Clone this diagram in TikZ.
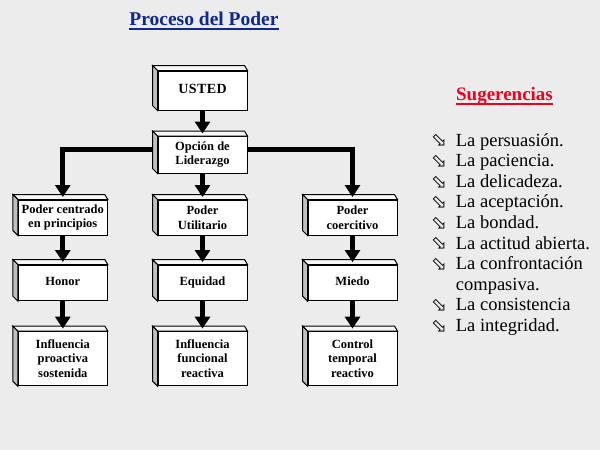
\documentclass[tikz,border=0pt]{standalone}
\usepackage{fontspec}
\setmainfont{Liberation Serif}
\newfontfamily\symfont{DejaVu Sans}
\usetikzlibrary{arrows.meta}
\definecolor{bgc}{RGB}{236,236,236}
\definecolor{ttl}{RGB}{16,40,150}
\definecolor{sug}{RGB}{240,0,30}
\definecolor{sidec}{RGB}{192,192,192}
\definecolor{topc}{RGB}{246,246,246}
\begin{document}
\begin{tikzpicture}[x=1pt,y=-1pt,
  face/.style={draw, line width=1pt, fill=white, minimum width=89pt, inner sep=1pt, align=center,
    font=\bfseries\fontsize{12.5}{14.5}\selectfont},
  oneline/.style={text height=9pt, text depth=3pt},
  conn/.style={line width=5pt, -{Triangle[width=15pt,length=12pt]}, shorten >=2.5pt, line join=miter},
  listtxt/.style={anchor=base west, inner sep=0pt, font=\fontsize{18.5}{20}\selectfont},
  bul/.style={anchor=south west, inner sep=0pt, font=\symfont\fontsize{19}{19}\selectfont},
]
\fill[bgc] (0,0) rectangle (600,450);
\useasboundingbox (0,0) rectangle (600,450);

% title
\node[anchor=base, inner sep=0pt, text=ttl, font=\bfseries\fontsize{19.5}{22}\selectfont] (title) at (204,25.3) {Proceso del Poder};
\draw[ttl, line width=2pt] ([yshift=-4pt]title.base west) -- ([yshift=-4pt]title.base east);

% boxes
\node[face, oneline, minimum height=39pt] (usted) at (202.5,90.5) {\fontsize{14}{16}\selectfont\addfontfeature{LetterSpace=3}USTED};
\node[face, minimum height=36.5pt] (opcion) at (202.5,154.75) {Opción de\\Liderazgo};
\node[face, minimum height=35pt] (pA) at (62.8,217.5) {Poder centrado\\en principios};
\node[face, minimum height=35pt] (pB) at (202.5,217.5) {Poder\\Utilitario};
\node[face, minimum height=35pt] (pC) at (352.5,217.5) {Poder\\coercitivo};
\node[face, oneline, minimum height=35.5pt] (hA) at (62.8,282.8) {Honor};
\node[face, oneline, minimum height=35.5pt] (hB) at (202.5,282.8) {Equidad};
\node[face, oneline, minimum height=35.5pt] (hC) at (352.5,282.8) {Miedo};
\node[face, minimum height=54pt] (iA) at (62.8,358.6) {Influencia\\proactiva\\sostenida};
\node[face, minimum height=54pt] (iB) at (202.5,358.6) {Influencia\\funcional\\reactiva};
\node[face, minimum height=54pt] (iC) at (352.5,358.6) {Control\\temporal\\reactivo};

\foreach \n in {usted,opcion,pA,pB,pC,hA,hB,hC,iA,iB,iC}{
  \filldraw[fill=topc, line width=1pt, line join=miter]
    ([shift={(-5pt,5pt)}]\n.north west) -- ([shift={(-3pt,5pt)}]\n.north east)
    -- (\n.north east) -- (\n.north west) -- cycle;
  \filldraw[fill=sidec, line width=1pt, line join=miter]
    ([shift={(-5pt,5pt)}]\n.north west) -- (\n.north west)
    -- (\n.south west) -- ([shift={(-5pt,5pt)}]\n.south west) -- cycle;
}

% connectors
\draw[conn] (usted) -- (opcion);
\draw[conn] (opcion) -- (pB);
\draw[conn] ([xshift=-5pt,yshift=5.5pt]opcion.west) -| (pA.north);
\draw[conn] ([yshift=5.5pt]opcion.east) -| (pC.north);
\draw[conn] (pA) -- (hA);
\draw[conn] (pB) -- (hB);
\draw[conn] (pC) -- (hC);
\draw[conn] (hA) -- (iA);
\draw[conn] (hB) -- (iB);
\draw[conn] (hC) -- (iC);

% suggestions
\node[anchor=base, inner sep=0pt, text=sug, font=\bfseries\fontsize{19}{22}\selectfont] (sug) at (504.5,100) {Sugerencias};
\draw[sug, line width=2pt] ([yshift=-3.5pt]sug.base west) -- ([yshift=-3.5pt]sug.base east);

\node[bul] (b1) at (431,147) {⬂};
\node[listtxt] (l1) at (455.7,146) {La persuasión.};
\node[bul] (b2) at (431,167.6) {⬂};
\node[listtxt] (l2) at (455.7,166.6) {La paciencia.};
\node[bul] (b3) at (431,188.2) {⬂};
\node[listtxt] (l3) at (455.7,187.2) {La delicadeza.};
\node[bul] (b4) at (431,208.8) {⬂};
\node[listtxt] (l4) at (455.7,207.8) {La aceptación.};
\node[bul] (b5) at (431,229.4) {⬂};
\node[listtxt] (l5) at (455.7,228.4) {La bondad.};
\node[bul] (b6) at (431,250) {⬂};
\node[listtxt] (l6) at (455.7,249) {La actitud abierta.};
\node[bul] (b7) at (431,270.6) {⬂};
\node[listtxt] (l7) at (455.7,269.6) {La confrontación};
\node[listtxt] (l8) at (455.7,290.2) {compasiva.};
\node[bul] (b9) at (431,311.8) {⬂};
\node[listtxt] (l9) at (455.7,310.8) {La consistencia};
\node[bul] (b10) at (431,332.4) {⬂};
\node[listtxt] (l10) at (455.7,331.4) {La integridad.};
\end{tikzpicture}
\end{document}
